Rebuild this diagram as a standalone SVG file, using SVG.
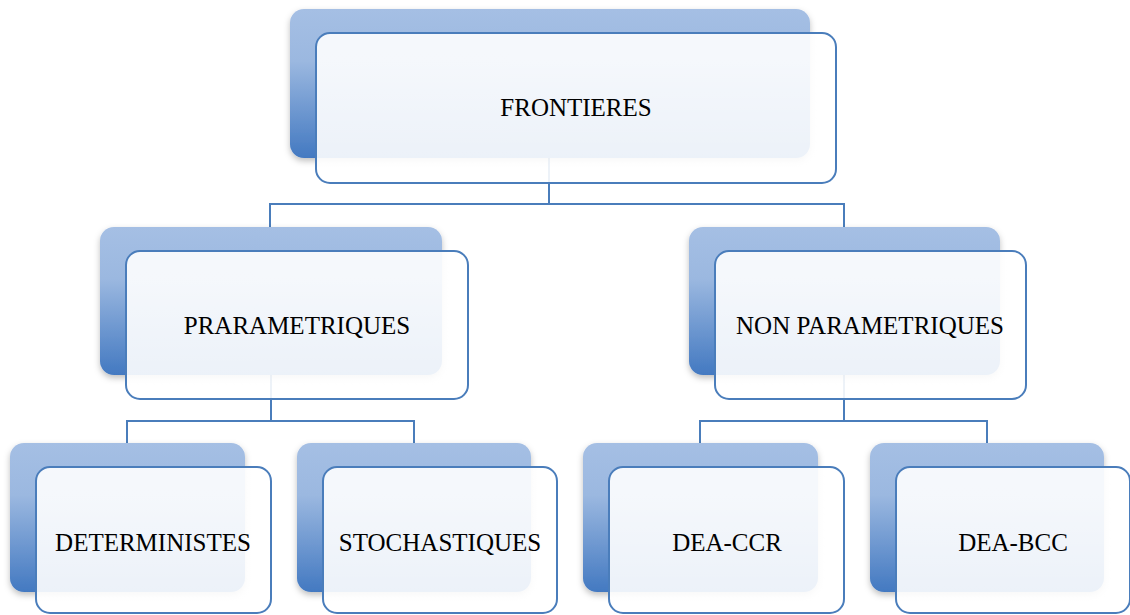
<svg xmlns="http://www.w3.org/2000/svg" width="1130" height="615" viewBox="0 0 1130 615">
<defs>
<linearGradient id="back" x1="0" y1="0" x2="0" y2="1">
<stop offset="0" stop-color="#a5bfe4"/>
<stop offset="0.35" stop-color="#9bb8e0"/>
<stop offset="1" stop-color="#4379c1"/>
</linearGradient>
<linearGradient id="front" x1="0" y1="0" x2="0" y2="1">
<stop offset="0" stop-color="#ffffff" stop-opacity="0.9"/>
<stop offset="1" stop-color="#ffffff" stop-opacity="0.9"/>
</linearGradient>
<filter id="sh" x="-10%" y="-10%" width="120%" height="130%">
<feDropShadow dx="0" dy="3" stdDeviation="3" flood-color="#000" flood-opacity="0.25"/>
</filter>
</defs>
<style>
.b{fill:url(#back);filter:url(#sh)}
.f{fill:url(#front);stroke:#4a7dbb;stroke-width:2}
.c{fill:none;stroke:#4a7dbb;stroke-width:2}
text{font-family:"Liberation Serif","DejaVu Serif",serif;font-size:25px;fill:#000;text-anchor:middle}
</style>
<g id="connectors">
<path class="c" d="M549 158V204M270 227V204H844V227"/>
<path class="c" d="M271 375V421M127 443V421H414V443"/>
<path class="c" d="M844 375V421M700 443V421H987V443"/>
</g>
<g id="n-frontieres">
<rect class="b" x="290" y="9" width="520" height="149" rx="14"/>
<rect class="f" x="316" y="33" width="520" height="150" rx="14"/>
<text x="576" y="116">FRONTIERES</text>
</g>
<g id="n-parametriques">
<rect class="b" x="100" y="227" width="342" height="148" rx="14"/>
<rect class="f" x="126" y="251" width="342" height="148" rx="14"/>
<text x="297" y="334">PRARAMETRIQUES</text>
</g>
<g id="n-nonparametriques">
<rect class="b" x="689" y="227" width="311" height="148" rx="14"/>
<rect class="f" x="715" y="251" width="311" height="148" rx="14"/>
<text x="870" y="334">NON PARAMETRIQUES</text>
</g>
<g id="n-deterministes">
<rect class="b" x="10" y="443" width="235" height="149" rx="14"/>
<rect class="f" x="36" y="467" width="235" height="146" rx="14"/>
<text x="153" y="551">DETERMINISTES</text>
</g>
<g id="n-stochastiques">
<rect class="b" x="297" y="443" width="234" height="149" rx="14"/>
<rect class="f" x="323" y="467" width="234" height="146" rx="14"/>
<text x="440" y="551">STOCHASTIQUES</text>
</g>
<g id="n-deaccr">
<rect class="b" x="583" y="443" width="235" height="149" rx="14"/>
<rect class="f" x="609" y="467" width="235" height="146" rx="14"/>
<text x="727" y="551">DEA-CCR</text>
</g>
<g id="n-deabcc">
<rect class="b" x="870" y="443" width="234" height="149" rx="14"/>
<rect class="f" x="896" y="467" width="234" height="146" rx="14"/>
<text x="1013" y="551">DEA-BCC</text>
</g>
</svg>
